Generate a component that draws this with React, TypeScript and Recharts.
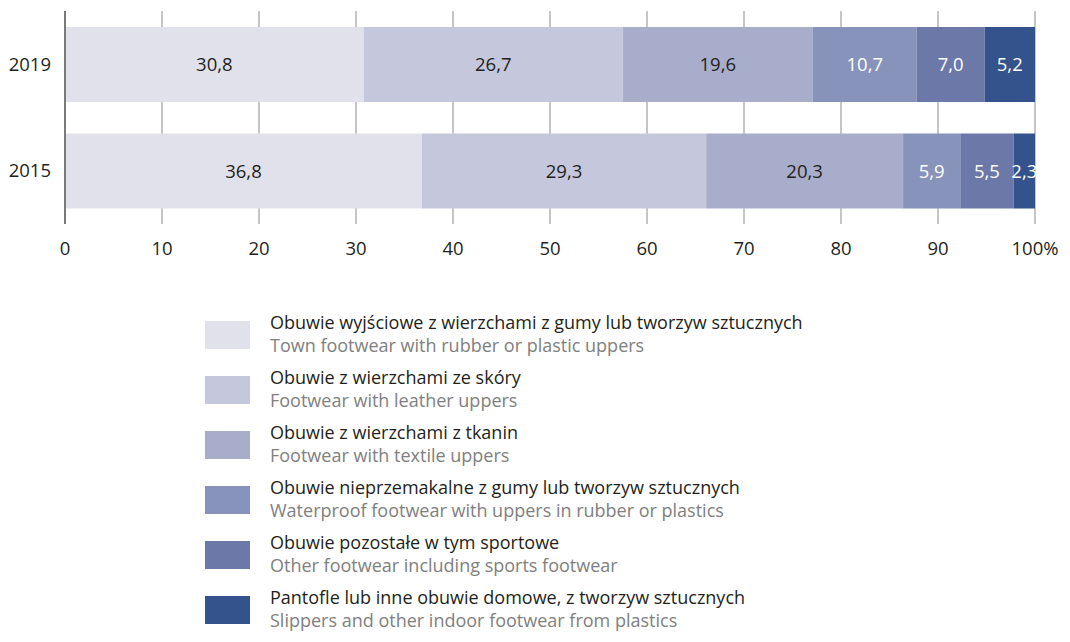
import { BarChart, Bar, XAxis, YAxis, CartesianGrid, LabelList } from 'recharts';

const years = ['2019', '2015'];
const townRubber = [30.8, 36.8];
const leather = [26.7, 29.3];
const textile = [19.6, 20.3];
const waterproof = [10.7, 5.9];
const otherSports = [7.0, 5.5];
const slippers = [5.2, 2.3];
const xTicks = [0, 10, 20, 30, 40, 50, 60, 70, 80, 90, 100];

const seriesInfo = [
  { key: 'town', values: townRubber, color: '#e1e1ec', text: '#231f20', pl: 'Obuwie wyjściowe z wierzchami z gumy lub tworzyw sztucznych', en: 'Town footwear with rubber or plastic uppers' },
  { key: 'leather', values: leather, color: '#c5c7dd', text: '#231f20', pl: 'Obuwie z wierzchami ze skóry', en: 'Footwear with leather uppers' },
  { key: 'textile', values: textile, color: '#a8adcb', text: '#231f20', pl: 'Obuwie z wierzchami z tkanin', en: 'Footwear with textile uppers' },
  { key: 'waterproof', values: waterproof, color: '#8793bb', text: '#ffffff', pl: 'Obuwie nieprzemakalne z gumy lub tworzyw sztucznych', en: 'Waterproof footwear with uppers in rubber or plastics' },
  { key: 'sports', values: otherSports, color: '#6b78a8', text: '#ffffff', pl: 'Obuwie pozostałe w tym sportowe', en: 'Other footwear including sports footwear' },
  { key: 'slippers', values: slippers, color: '#34528b', text: '#ffffff', pl: 'Pantofle lub inne obuwie domowe, z tworzyw sztucznych', en: 'Slippers and other indoor footwear from plastics' },
];

const data = years.map((year, i) => {
  const row: Record<string, string | number> = { year };
  seriesInfo.forEach(s => { row[s.key] = s.values[i]; });
  return row;
});

const fmt = (v: any) => Number(v).toFixed(1).replace('.', ',');
const font = '"Open Sans", sans-serif';

function LegendBox() {
  return (
    <div style={{ fontFamily: font, position: 'absolute', top: 307, left: 205 }}>
      {seriesInfo.map(s => (
        <div key={s.key} style={{ display: 'flex', alignItems: 'center', height: 55 }}>
          <div style={{ width: 45, height: 28, background: s.color, marginRight: 20 }} />
          <div style={{ lineHeight: '23px', marginTop: -2, whiteSpace: 'nowrap', fontSize: 18 }}>
            <div style={{ color: '#231f20' }}>{s.pl}</div>
            <div style={{ color: '#808080' }}>{s.en}</div>
          </div>
        </div>
      ))}
    </div>
  );
}

export default function App() {
  return (
    <div style={{ margin: -8, width: 1070, height: 642, background: '#fff', position: 'relative', overflow: 'hidden' }}>
      <BarChart
        width={1070}
        height={642}
        data={data}
        layout="vertical"
        margin={{ top: 11, right: 35, bottom: 388, left: 0 }}
        barSize={75}
      >
        <CartesianGrid horizontal={false} stroke="#b3b3b3" strokeWidth={1.5} />
        <XAxis
          type="number"
          domain={[0, 100]}
          ticks={xTicks}
          allowDataOverflow
          height={30}
          axisLine={false}
          tickLine={false}
          tickFormatter={(v: number) => (v === 100 ? '100%' : String(v))}
          tick={{ fill: '#231f20', fontSize: 18.5, fontFamily: font }}
          tickMargin={12}
        />
        <YAxis
          type="category"
          dataKey="year"
          width={65}
          axisLine={{ stroke: '#7a7a7a', strokeWidth: 2 }}
          tickLine={false}
          tick={{ fill: '#231f20', fontSize: 18.5, fontFamily: font }}
          tickMargin={8}
        />
        {seriesInfo.map(s => (
          <Bar key={s.key} dataKey={s.key} stackId="a" fill={s.color} isAnimationActive={false}>
            <LabelList
              dataKey={s.key}
              position="center"
              formatter={fmt}
              style={{ fill: s.text, fontSize: 18.5, fontFamily: font }}
            />
          </Bar>
        ))}
      </BarChart>
      <LegendBox />
    </div>
  );
}
